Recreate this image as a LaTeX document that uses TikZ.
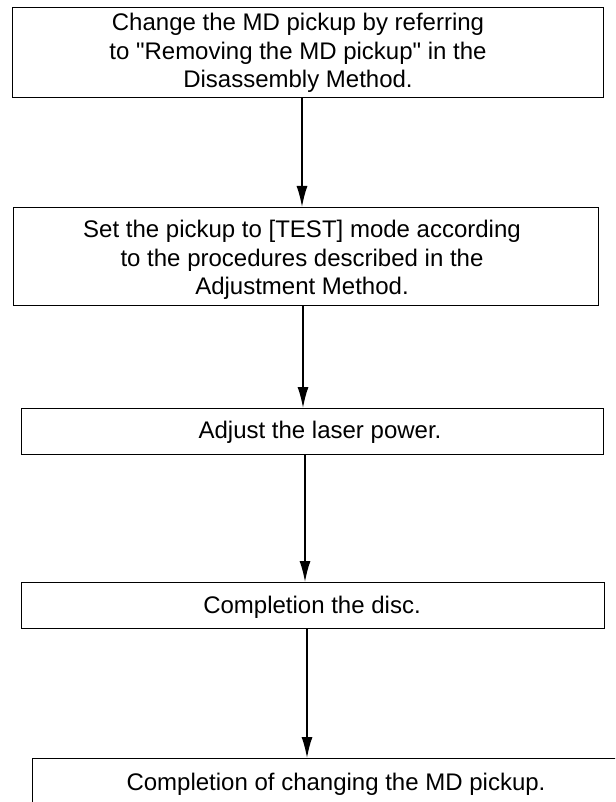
\documentclass[tikz,border=0pt]{standalone}
\usepackage{fontspec}
\setmainfont{Liberation Sans}
\newfontfamily\plainq{Liberation Sans}
\usetikzlibrary{arrows.meta}
\begin{document}
\begin{tikzpicture}[x=1pt,y=-1pt,
  box/.style={draw, line width=1.4pt, inner sep=0pt, anchor=north west},
  txt/.style={align=center, font=\fontsize{24}{28.5}\selectfont, inner sep=0pt},
  arr/.style={line width=1.5pt, -{Latex[length=21pt,width=11pt]}}]
\useasboundingbox (0,0) rectangle (615,802);
\clip (0,0) rectangle (615,802);
\node[box, minimum width=591pt, minimum height=90pt] (b1) at (12,7) {};
\node[box, minimum width=585pt, minimum height=98pt] (b2) at (13,207) {};
\node[box, minimum width=582pt, minimum height=46pt] (b3) at (21,408) {};
\node[box, minimum width=583pt, minimum height=46pt] (b4) at (21,582) {};
\node[box, minimum width=598pt, minimum height=62pt] (b5) at (32,758) {};
\node[txt] (t1) at (298,53) {Change the MD pickup by referring\\to {\plainq"}Removing the MD pickup{\plainq"} in the\\Disassembly Method.};
\node[txt] (t2) at (302,260) {Set the pickup to [TEST] mode according\\to the procedures described in the\\Adjustment Method.};
\node[txt] (t3) at (320,432) {Adjust the laser power.};
\node[txt] (t4) at (312,607) {Completion the disc.};
\node[txt] (t5) at (336,784) {Completion of changing the MD pickup.};
\coordinate (x1) at (302,0);
\coordinate (x2) at (303,0);
\coordinate (x3) at (305,0);
\coordinate (x4) at (307,0);
\draw[arr] (b1.south -| x1) -- (b2.north -| x1);
\draw[arr] (b2.south -| x2) -- (b3.north -| x2);
\draw[arr] (b3.south -| x3) -- (b4.north -| x3);
\draw[arr] (b4.south -| x4) -- (b5.north -| x4);
\end{tikzpicture}
\end{document}
